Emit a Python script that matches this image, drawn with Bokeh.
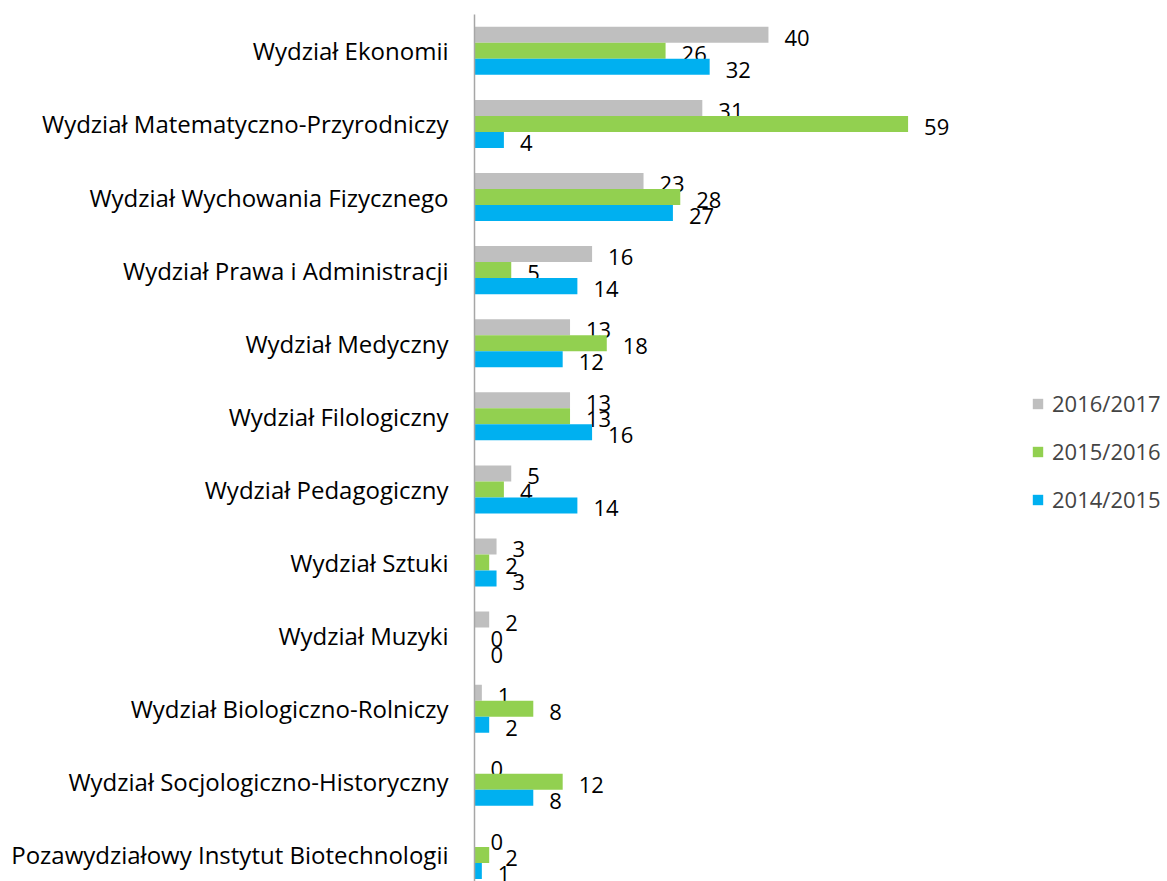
from bokeh.plotting import figure
from bokeh.models import ColumnDataSource, Range1d, FixedTicker, Legend, LegendItem
from bokeh.core.properties import value
from bokeh.embed import file_html
from bokeh.resources import INLINE

categories = [
    "Wydział Ekonomii",
    "Wydział Matematyczno-Przyrodniczy",
    "Wydział Wychowania Fizycznego",
    "Wydział Prawa i Administracji",
    "Wydział Medyczny",
    "Wydział Filologiczny",
    "Wydział Pedagogiczny",
    "Wydział Sztuki",
    "Wydział Muzyki",
    "Wydział Biologiczno-Rolniczy",
    "Wydział Socjologiczno-Historyczny",
    "Pozawydziałowy Instytut Biotechnologii",
]
series_names = ["2016/2017", "2015/2016", "2014/2015"]
v_2016_2017 = [40, 31, 23, 16, 13, 13, 5, 3, 2, 1, 0, 0]
v_2015_2016 = [26, 59, 28, 5, 18, 13, 4, 2, 0, 8, 12, 2]
v_2014_2015 = [32, 4, 27, 14, 12, 16, 14, 3, 0, 2, 8, 1]
colors = ["#bfbfbf", "#92d050", "#00b0f0"]

FONT = "Open Sans"

p = figure(width=1167, height=881, output_backend="svg", toolbar_location=None,
           x_range=Range1d(0, 94.3), y_range=Range1d(11.364, -0.497),
           min_border_left=474, min_border_right=0, min_border_top=14, min_border_bottom=0)
p.outline_line_color = None
p.xgrid.visible = False
p.ygrid.visible = False
p.xaxis.visible = False

yax = p.yaxis[0]
yax.ticker = FixedTicker(ticks=list(range(len(categories))))
yax.major_label_overrides = {i: c for i, c in enumerate(categories)}
yax.major_tick_line_color = None
yax.major_tick_out = 0
yax.major_tick_in = 0
yax.minor_tick_line_color = None
yax.axis_line_color = "#a6a6a6"
yax.axis_line_width = 1.5
yax.major_label_standoff = 26
yax.major_label_text_font = FONT
yax.major_label_text_font_size = "24px"
yax.major_label_text_color = "#000000"

bar_h = 0.219
offsets = [-bar_h, 0.0, bar_h]
renderers = []
for name, vals, col, off in zip(series_names, [v_2016_2017, v_2015_2016, v_2014_2015], colors, offsets):
    src = ColumnDataSource(dict(
        y=[i + off for i in range(len(categories))],
        v=vals,
        lbl=[str(x) for x in vals],
    ))
    r = p.hbar(y="y", left=0, right="v", height=bar_h, source=src, fill_color=col, line_color=None)
    renderers.append(r)
    p.text(x="v", y="y", text="lbl", source=src, x_offset=16, y_offset=3,
           text_align="left", text_baseline="middle", text_font=value(FONT),
           text_font_size="22px", text_color="#000000")

legend = Legend(items=[LegendItem(label=n, renderers=[r]) for n, r in zip(series_names, renderers)],
                location=(557, 367))
legend.border_line_color = None
legend.background_fill_alpha = 0
legend.padding = 0
legend.margin = 0
legend.glyph_width = 13
legend.glyph_height = 13
legend.label_height = 30
legend.spacing = 18
legend.label_standoff = 8
legend.label_text_font = FONT
legend.label_text_font_size = "22px"
p.add_layout(legend)

open("out.html", "w").write(file_html(p, INLINE))
